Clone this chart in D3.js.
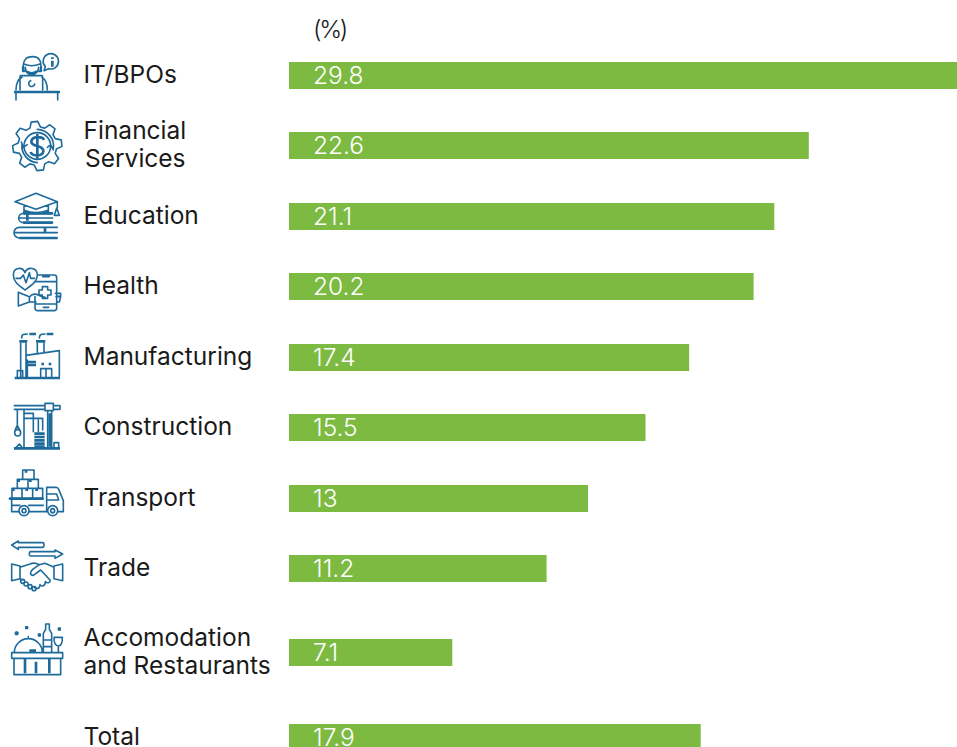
<!DOCTYPE html>
<html>
<head>
<meta charset="utf-8">
<script src="https://cdn.jsdelivr.net/npm/d3@7/dist/d3.min.js"></script>
<style>
  html, body { margin: 0; padding: 0; background: #fff; }
  svg { display: block; }
  text { font-family: "Inter", "Open Sans", sans-serif; }
</style>
</head>
<body>
<svg id="chart" width="957" height="747"></svg>
<script>
// Employment share by sector, in percent
const categories = ["IT/BPOs", "Financial Services", "Education", "Health", "Manufacturing",
  "Construction", "Transport", "Trade", "Accomodation and Restaurants", "Total"];
const values = [29.8, 22.6, 21.1, 20.2, 17.4, 15.5, 13, 11.2, 7.1, 17.9];
const categoryLines = [["IT/BPOs"], ["Financial", "Services"], ["Education"], ["Health"], ["Manufacturing"],
  ["Construction"], ["Transport"], ["Trade"], ["Accomodation", "and Restaurants"], ["Total"]];
const unitLabel = "(%)";

const width = 957, height = 747;
const barColor = "#7dba42", iconColor = "#1d6a9b", inkColor = "#1a1a1a";

// The longest bar runs past the right edge and is cut off by the svg
const x = d3.scaleLinear().domain([0, 30]).range([289, 979]);
const rowCentre = d3.scaleOrdinal(categories, [75.5, 145.5, 216.5, 286.5, 357.5, 427.5, 498.5, 568.5, 652.5, 737.5]);
const barHeight = 27, lineGap = 28, fontSize = 24.5;

const svg = d3.select("#chart").attr("viewBox", [0, 0, width, height]);

const rows = categories.map((c, i) => ({ category: c, value: values[i], lines: categoryLines[i] }));

svg.selectAll("rect.bar").data(rows).join("rect")
  .attr("class", "bar")
  .attr("x", x(0))
  .attr("y", d => rowCentre(d.category) - barHeight / 2)
  .attr("width", d => x(d.value) - x(0))
  .attr("height", barHeight)
  .attr("fill", barColor);

svg.selectAll("text.value").data(rows).join("text")
  .attr("class", "value")
  .attr("x", 313)
  .attr("y", d => rowCentre(d.category) + 8)
  .attr("font-size", fontSize)
  .attr("font-weight", 300)
  .attr("fill", "#fff")
  .text(d => d.value);

svg.append("text").attr("x", 313).attr("y", 38)
  .attr("font-size", fontSize).attr("font-weight", 300).attr("letter-spacing", -2.4)
  .attr("fill", inkColor).text(unitLabel);

const labels = svg.selectAll("text.label").data(rows).join("text")
  .attr("class", "label")
  .attr("font-size", fontSize)
  .attr("fill", inkColor);
labels.selectAll("tspan").data(d => d.lines.map((t, i) => ({ t, i, n: d.lines.length, c: d.category }))).join("tspan")
  .attr("x", d => d.t === "Services" ? 85 : 83.5)
  .attr("y", d => rowCentre(d.c) + 7 + (d.i - (d.n - 1) / 2) * lineGap)
  .text(d => d.t);

// Sector pictograms, drawn on a 3x grid and scaled down; each has a vertical origin
const gear = (cx, cy, ro, ri, teeth) => {
  const p = d3.path(), step = 2 * Math.PI / teeth;
  d3.range(teeth).forEach(k => {
    const a = k * step - Math.PI / 2;
    [[ri, -0.5], [ro, -0.32], [ro, 0.02], [ri, 0.2]].forEach(([r, f], j) => {
      const px = cx + r * Math.cos(a + f * step), py = cy + r * Math.sin(a + f * step);
      (k === 0 && j === 0) ? p.moveTo(px, py) : p.lineTo(px, py);
    });
  });
  p.closePath();
  return p.toString();
};

const icons = [
  { origin: 40, thin: `M48 156V180M173 156V180
      M60 150V110Q60 107 63 107H125Q128 107 128 110V150
      M72 92C64 60 80 50 98 50C118 50 128 66 120 92
      M72 72C85 78 105 78 120 72 M76 82C78 112 112 112 116 82
      M68 80V94H75M124 80V94H110
      M48 150C48 130 54 118 66 112M126 112C136 118 142 130 142 150
      M92 122A9 9 0 1 0 104 132
      M146 86L132 92L136 80A23 23 0 1 1 146 86Z`,
    thick: `M42 156H180M157 62V80M157 52V57M80 95Q95 105 110 95` },
  { origin: 40, thin: gear(112, 318, 74, 58, 8) + `M64 306L70 322L82 314M160 330L152 314L142 322
      M112 268A50 50 0 0 1 160 326M112 368A50 50 0 0 1 66 312
      M112 278A40 40 0 0 1 112 358A40 40 0 0 1 112 278`,
    thick: `M132 300C128 288 96 288 94 304C92 322 132 314 130 334C128 350 96 350 92 336M112 282V356` },
  { origin: 180, thin: `M45 65L108 40L172 65L108 88ZM72 75V97M145 75V97M172 65V84
      M158 100H70A14 14 0 0 0 70 128H158M56 114H158
      M172 142H58A16 16 0 0 0 58 174H172M44 158H172
      M163 106L170 84L178 106Z`,
    thick: `M72 92Q108 106 145 92M70 128H158M58 174H172M82 103V122M135 143V160M70 100H158` },
  { origin: 180, thin: `M75 330C55 315 40 305 40 285C40 262 68 258 75 278C82 258 112 262 112 285C112 305 95 315 75 330Z
      M48 295H62L70 285L78 308L88 278L92 295H104
      M114 285H162Q170 285 170 293V384Q170 392 162 392H113Q105 392 105 384V350
      M105 305H170M108 372H170M128 290H148M130 382H146
      M127 320H143V330H153V345H143V355H127V345H117V330H127Z
      M55 337L88 350V366L55 378ZM88 352C96 340 110 340 120 348L135 352
      M88 366H108M166 340H182V348L168 350M170 350H182L178 366H170`,
    thick: `` },
  { origin: 180, thin: `M62 490V590M78 490V590M112 490V522M132 490V518
      M78 526L178 512V590M52 592V572H68V592M82 590V540
      M122 590V566H138V590M138 590V566H155V590
      M65 474C64 462 72 462 82 462M118 474C118 462 125 462 135 462`,
    thick: `M58 484H82M108 484H136M44 594H180M84 546H108M84 555H108M88 462H108M140 462H160M128 548V556M150 548V556` },
  { origin: 390, thin: `M43 47H135M43 58H135M160 47H180V58H160M135 40H160V62H135ZM143 62V175M155 62V175
      M52 58V105M44 128A9 10 0 1 0 62 128A9 10 0 1 0 44 128M46 118L52 106L58 118
      M72 60V175M72 70H100V85H128V120M100 85V125M72 85H100M115 90V125
      M46 175L58 162L68 175M162 175V158H176V175`,
    thick: `M42 175H180M103 131H134M103 141H134M103 151H134M103 161H134M103 170H134M149 70V170` },
  { origin: 390, thin: `M68 268V240H102V268M52 295V268H115V295M84 268V295M36 322V295H128V322M66 295V322M98 295V322
      M28 326H130M35 330V365H56M88 365H140V292H168Q174 292 176 298L190 332V365H175M35 346H60M86 346H130
      M140 312H170L176 330H140Z`,
    thick: `M28 326H130M78 240V248M56 268V276M91 268V276M40 295V303M80 295V303M110 295V303`,
    dots: [[72, 362, 15], [72, 362, 6], [158, 362, 15], [158, 362, 6]] },
  { origin: 530, thin: `M55 33L35 45L55 58V52H128Q132 52 132 45Q132 38 128 38H55Z
      M165 60L188 72L165 85V78H92Q88 78 88 72Q88 65 92 65H165Z
      M35 102L60 108V146L35 152ZM188 102L162 108V146L188 152Z
      M60 112L90 102C100 97 110 100 118 104L135 100L162 112
      M118 104L98 118C90 126 88 136 100 136L122 120L150 150C152 160 140 160 136 155
      M136 155C136 170 124 170 120 164M120 166C118 178 106 178 102 170M60 146L66 150`,
    thick: ``,
    dots: [[68, 154, 6], [78, 162, 6], [90, 170, 6], [102, 176, 6]] },
  { origin: 530, thin: `M43 368A42 42 0 0 1 127 368M85 326V320M130 368V310L137 298V282H148V298L155 310V368
      M162 322H187C188 340 182 348 175 348C168 348 161 340 162 322ZM175 348V368M162 368H188
      M35 368H188V385H35ZM42 385V434H182V385M130 330H155V350H130`,
    thick: `M75 385V430M108 395V430M148 385V430M88 362H108
      M50 304V316M44 310H56M80 288V298M75 293H85M118 310V320M113 315H123M178 292V302M173 297H183` }
];

const iconGroups = svg.selectAll("g.icon").data(icons).join("g")
  .attr("class", "icon")
  .attr("transform", d => `translate(0,${d.origin}) scale(${1 / 3})`)
  .attr("fill", "none")
  .attr("stroke", iconColor)
  .attr("stroke-linejoin", "round")
  .attr("stroke-linecap", "round");
iconGroups.append("path").attr("d", d => d.thin).attr("stroke-width", 4.8);
iconGroups.append("path").attr("d", d => d.thick).attr("stroke-width", 8).attr("stroke-linecap", "butt");
iconGroups.selectAll("circle").data(d => d.dots || []).join("circle")
  .attr("cx", d => d[0]).attr("cy", d => d[1]).attr("r", d => d[2]).attr("stroke-width", 4.8);
</script>
</body>
</html>
